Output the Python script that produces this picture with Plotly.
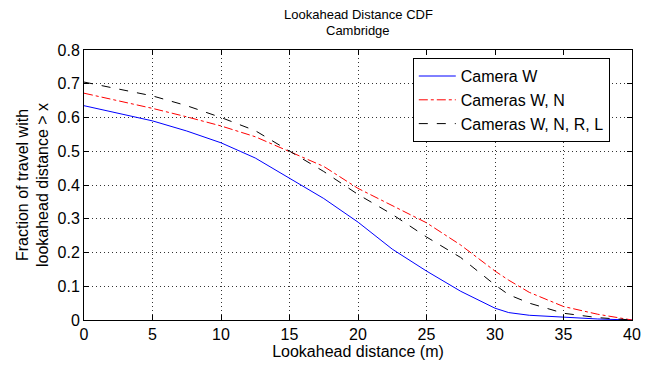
import plotly.graph_objects as go

x = [0, 2.5, 5, 7.5, 10, 12.5, 15, 17.5, 20, 22.5, 25, 27.5, 30, 31, 32.5, 35, 37.5, 40]
camera_w = [0.635, 0.613, 0.59, 0.56, 0.525, 0.48, 0.42, 0.36, 0.29, 0.21, 0.145, 0.085, 0.035, 0.022, 0.014, 0.008, 0.003, 0.0]
cameras_wn = [0.672, 0.65, 0.627, 0.602, 0.575, 0.543, 0.5, 0.455, 0.39, 0.338, 0.288, 0.222, 0.145, 0.118, 0.082, 0.04, 0.017, 0.0]
cameras_wnrl = [0.705, 0.685, 0.664, 0.635, 0.6, 0.561, 0.5, 0.44, 0.372, 0.313, 0.246, 0.185, 0.104, 0.075, 0.05, 0.02, 0.007, 0.0]
names = ["Camera W", "Cameras W, N", "Cameras W, N, R, L"]
x_ticks = [0, 5, 10, 15, 20, 25, 30, 35, 40]
y_ticks = [0, 0.1, 0.2, 0.3, 0.4, 0.5, 0.6, 0.7, 0.8]
title_lines = ["Lookahead Distance CDF", "Cambridge"]

font = "Liberation Sans, Arial, sans-serif"

fig = go.Figure()
fig.add_trace(go.Scatter(x=x, y=camera_w, name=names[0], mode="lines",
                         line=dict(color="#0000ff", width=1)))
fig.add_trace(go.Scatter(x=x, y=cameras_wn, name=names[1], mode="lines",
                         line=dict(color="#ff0000", width=1, dash="dashdot")))
fig.add_trace(go.Scatter(x=x, y=cameras_wnrl, name=names[2], mode="lines",
                         line=dict(color="#000000", width=1, dash="dash")))

axis_common = dict(showline=True, linecolor="black", linewidth=1, mirror="ticks",
                   ticks="inside", ticklen=5, tickcolor="black",
                   showgrid=True, gridcolor="#333333", gridwidth=1, griddash="1px,3px",
                   zeroline=False, tickfont=dict(size=16, color="black", family=font))

fig.update_xaxes(range=[0, 40], tickvals=x_ticks, ticktext=[str(v) for v in x_ticks],
                 title=dict(text="Lookahead distance (m)", font=dict(size=16, color="black", family=font), standoff=2),
                 **axis_common)
fig.update_yaxes(range=[0, 0.8], tickvals=y_ticks, ticktext=["0" if v == 0 else f"{v:.1f}" for v in y_ticks],
                 title=dict(text="Fraction of travel with<br>lookahead distance > x", font=dict(size=16, color="black", family=font), standoff=4),
                 **axis_common)

fig.add_annotation(text=title_lines[0], xref="paper", yref="paper", x=0.5, y=1.133,
                   xanchor="center", yanchor="middle", showarrow=False,
                   font=dict(size=13, color="black", family=font))
fig.add_annotation(text=title_lines[1], xref="paper", yref="paper", x=0.5, y=1.072,
                   xanchor="center", yanchor="middle", showarrow=False,
                   font=dict(size=13, color="black", family=font))

fig.update_layout(
    width=646, height=359,
    margin=dict(l=76, r=22, t=42, b=47),
    paper_bgcolor="white", plot_bgcolor="white",
    legend=dict(x=0.6, y=0.97, xanchor="left", yanchor="top", bgcolor="white",
                bordercolor="black", borderwidth=1, font=dict(size=16, color="black", family=font),
                tracegroupgap=0, itemwidth=37),
    showlegend=True,
)

fig.write_html("out.html")
